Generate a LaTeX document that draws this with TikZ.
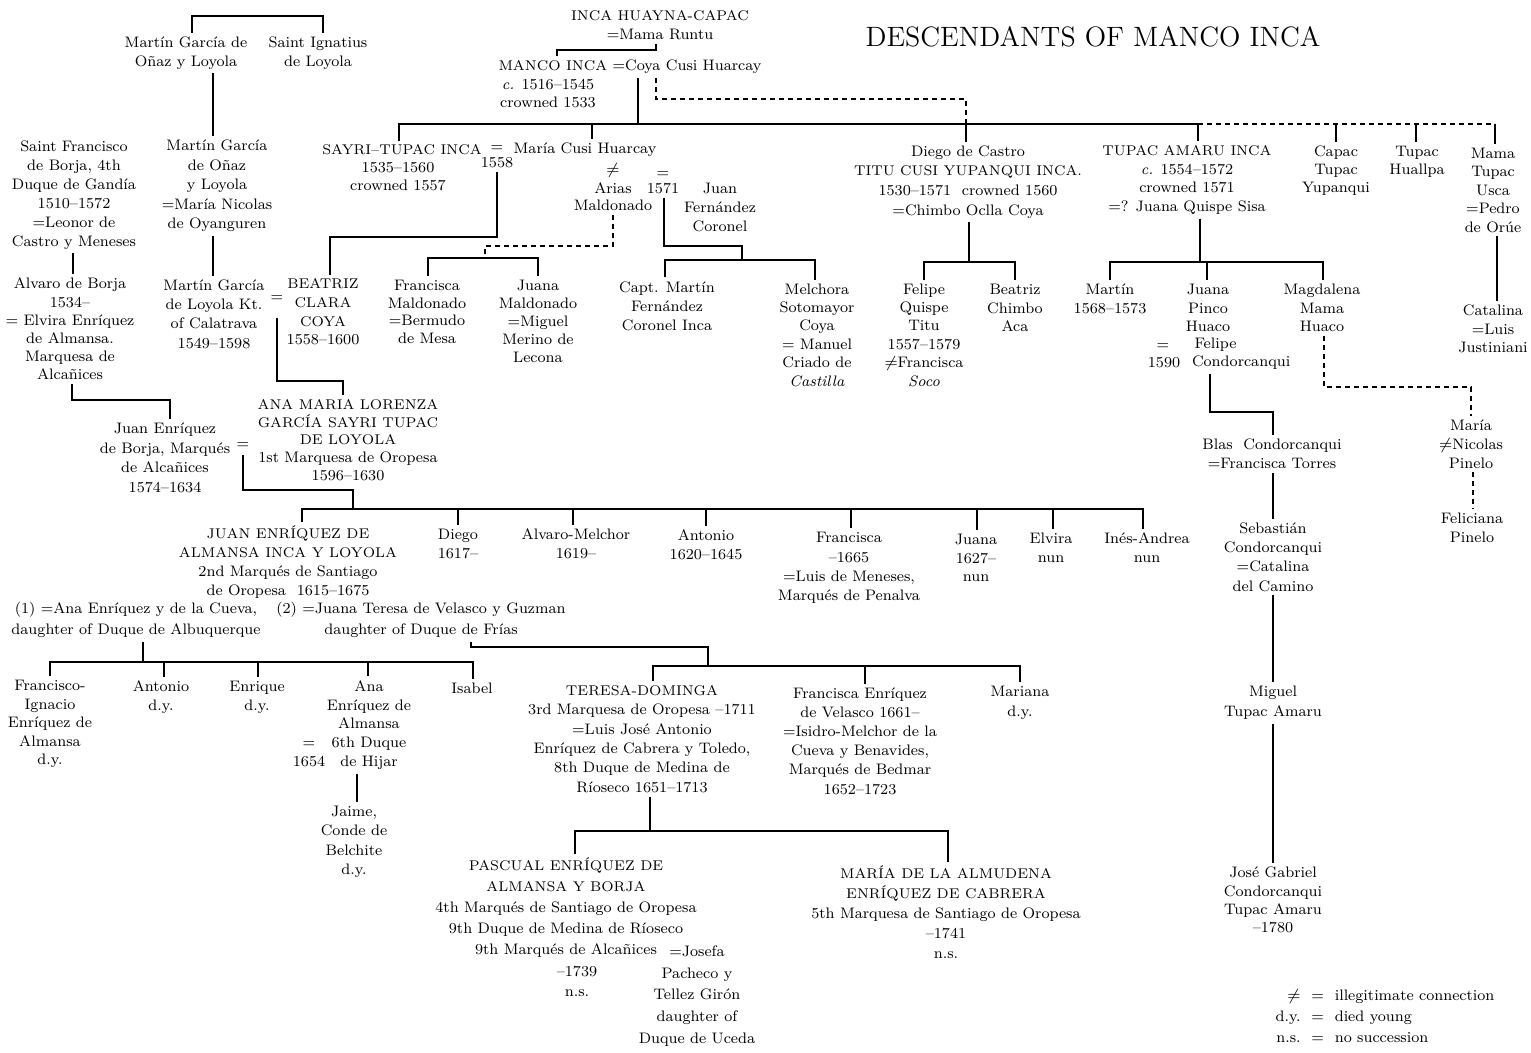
\documentclass[tikz,border=0pt]{standalone}
\usepackage{tikz}
\newcommand{\fsz}[1]{\fontsize{7.6}{#1}\selectfont}
\newcommand{\cp}[1]{{\fontsize{7.05}{9}\selectfont #1}}
\begin{document}
\begin{tikzpicture}[x=0.5pt,y=-0.5pt,line width=0.8pt,
  p/.style={align=center,inner sep=0pt,outer sep=2pt,font=\fsz{9.5}},
  dsh/.style={dash pattern=on 2.5pt off 2pt}]
\fill[white] (0,0) rectangle (1531,1053);
\useasboundingbox (0,0) rectangle (1531,1053);

\node[font=\fontsize{14}{16}\selectfont] (title) at (1093,37) {DESCENDANTS OF MANCO INCA};

% ---------- left side
\node[p] (mg1) at (186,53) {Martín García de\\Oñaz y Loyola};
\node[p] (ign) at (318,53) {Saint Ignatius\\de Loyola};
\node[p,font=\fsz{9.75}] (mg2) at (217,186) {Martín García\\de Oñaz\\y Loyola\\=María Nicolas\\de Oyanguren};
\node[p,font=\fsz{9.65}] (mg3) at (214,314) {Martín García\\de Loyola Kt.\\of Calatrava\\1549–1598};
\node[p] (eq3) at (277,299) {=};
\node[p] (sfb) at (74,195) {Saint Francisco\\de Borja, 4th\\Duque de Gandía\\1510–1572\\=Leonor de\\Castro y Meneses};
\node[p,font=\fsz{9.1}] (alv) at (70,329) {Alvaro de Borja\\1534–\\= Elvira Enríquez\\de Almansa.\\Marquesa de\\Alcañices};
\node[p,font=\fsz{9.85}] (jeb) at (165,458) {Juan Enríquez\\de Borja, Marqués\\de Alcañices\\1574–1634};
\node[p] (eq7) at (243,446) {=};
\node[p,font=\fsz{8.9}] (ana) at (348,440) {\cp{ANA MARIA LORENZA}\\\cp{GARCÍA SAYRI TUPAC}\\\cp{DE LOYOLA}\\1st Marquesa de Oropesa\\1596–1630};
\node[p] (jea) at (288,562) {\cp{JUAN ENRÍQUEZ DE}\\\cp{ALMANSA INCA Y LOYOLA}\\2nd Marqués de Santiago\\de Oropesa\ \ 1615–1675};
\node[p,font=\fsz{10.5}] (m1) at (136,620) {(1) =Ana Enríquez y de la Cueva,\\daughter of Duque de Albuquerque};
\node[p,font=\fsz{10.5}] (m2) at (421,620) {(2) =Juana Teresa de Velasco y Guzman\\daughter of Duque de Frías};
\node[p] (diego) at (458,544) {Diego\\1617–};
\node[p] (alvm) at (576,544) {Alvaro-Melchor\\1619–};
\node[p] (anto1) at (706,545) {Antonio\\1620–1645};
\node[p,font=\fsz{9.65}] (fran1) at (849,568) {Francisca\\–1665\\=Luis de Meneses,\\Marqués de Penalva};
\node[p,font=\fsz{9.25}] (juana1) at (976,558) {Juana\\1627–\\nun};
\node[p] (elvira) at (1051,548) {Elvira\\nun};
\node[p] (ines) at (1147,548) {Inés-Andrea\\nun};
\node[p,font=\fsz{9.25}] (fi) at (50,724) {Francisco-\\Ignacio\\Enríquez de\\Almansa\\d.y.};
\node[p] (anto2) at (161,697) {Antonio\\d.y.};
\node[p] (enr) at (257,697) {Enrique\\d.y.};
\node[p,font=\fsz{9.4}] (ana2) at (369,725) {Ana\\Enríquez de\\Almansa\\6th Duque\\de Hijar};
\node[p] (eqh) at (309,745) {=};
\node[p] (y1654) at (309,762) {1654};
\node[p] (isabel) at (472,688) {Isabel};
\node[p,font=\fsz{9.65}] (jaime) at (354,842) {Jaime,\\Conde de\\Belchite\\d.y.};
\node[p,font=\fsz{9.7}] (teresa) at (642,739) {\cp{TERESA-DOMINGA}\\3rd Marquesa de Oropesa –1711\\=Luis José Antonio\\Enríquez de Cabrera y Toledo,\\8th Duque de Medina de\\Ríoseco 1651–1713};
\node[p,font=\fsz{9.6}] (frane) at (860,741) {Francisca Enríquez\\de Velasco 1661–\\=Isidro-Melchor de la\\Cueva y Benavides,\\Marqués de Bedmar\\1652–1723};
\node[p,font=\fsz{10}] (mariana) at (1020,703) {Mariana\\d.y.};
\node[p,font=\fsz{10.5}] (pascual) at (566,908) {\cp{PASCUAL ENRÍQUEZ DE}\\\cp{ALMANSA Y BORJA}\\4th Marqués de Santiago de Oropesa\\9th Duque de Medina de Ríoseco\\9th Marqués de Alcañices};
\node[p,font=\fsz{10}] (pdates) at (577,981) {–1739\\n.s.};
\node[p,font=\fsz{10.9}] (josefa) at (697,996) {=Josefa\\Pacheco y\\Tellez Girón\\daughter of\\Duque de Uceda};
\node[p,font=\fsz{10}] (almudena) at (946,912) {\cp{MARÍA DE LA ALMUDENA}\\\cp{ENRÍQUEZ DE CABRERA}\\5th Marquesa de Santiago de Oropesa\\–1741\\n.s.};

% ---------- top centre
\node[p] (huayna) at (660,25) {\cp{INCA HUAYNA-CAPAC}\\=Mama Runtu};
\node[p] (manco) at (630,67) {\cp{MANCO INCA}\ =Coya Cusi Huarcay};
\node[p,font=\fsz{9}] (mancod) at (548,94) {\textit{c.} 1516–1545\\crowned 1533};
\node[p] (sayri) at (402,150) {\cp{SAYRI–TUPAC INCA}};
\node[p,font=\fsz{9}] (sayrid) at (398,177) {1535–1560\\crowned 1557};
\node[p] (eqs) at (497,149) {=};
\node[p] (y1558) at (497,163) {1558};
\node[p] (maria) at (585,150) {María Cusi Huarcay};
\node[p] (neq1) at (613,171) {$\neq$};
\node[p,font=\fsz{8.5}] (arias) at (613,197) {Arias\\Maldonado};
\node[p] (eq1571) at (663,175) {=};
\node[p] (y1571) at (663,189) {1571};
\node[p] (jfc) at (720,207) {Juan\\Fernández\\Coronel};
\node[p,font=\fsz{9.35}] (beatriz) at (323,312) {\cp{BEATRIZ}\\\cp{CLARA}\\\cp{COYA}\\1558–1600};
\node[p,font=\fsz{8.85}] (fmald) at (427,312) {Francisca\\Maldonado\\=Bermudo\\de Mesa};
\node[p,font=\fsz{9}] (jmald) at (538,321) {Juana\\Maldonado\\=Miguel\\Merino de\\Lecona};
\node[p] (capt) at (667,306) {Capt. Martín\\Fernández\\Coronel Inca};
\node[p,font=\fsz{9.2}] (melch) at (817,335) {Melchora\\Sotomayor\\Coya\\= Manuel\\Criado de\\\textit{Castilla}};
\node[p,font=\fsz{9.8}] (diegoc) at (968,182) {Diego de Castro\\\cp{TITU CUSI YUPANQUI INCA.}\\1530–1571\ \ crowned 1560\\=Chimbo Oclla Coya};
\node[p,font=\fsz{9.2}] (felipe) at (924,335) {Felipe\\Quispe\\Titu\\1557–1579\\$\neq$Francisca\\\textit{Soco}};
\node[p,font=\fsz{9.25}] (beatrizc) at (1015,308) {Beatriz\\Chimbo\\Aca};

% ---------- right side
\node[p,font=\fsz{9.35}] (tupac) at (1187,180) {\cp{TUPAC AMARU INCA}\\\textit{c.} 1554–1572\\crowned 1571\\=? Juana Quispe Sisa};
\node[p,font=\fsz{9}] (capac) at (1336,171) {Capac\\Tupac\\Yupanqui};
\node[p,font=\fsz{9}] (huallpa) at (1417,162) {Tupac\\Huallpa};
\node[p,font=\fsz{9.25}] (mamat) at (1493,190) {Mama\\Tupac\\Usca\\=Pedro\\de Orúe};
\node[p,font=\fsz{9.25}] (catalina) at (1493,329) {Catalina\\=Luis\\Justiniani};
\node[p] (martin2) at (1110,299) {Martín\\1568–1573};
\node[p,font=\fsz{9.25}] (juanap) at (1208,308) {Juana\\Pinco\\Huaco};
\node[p,font=\fsz{9},align=left,anchor=west] (felipec) at (1188,354) {\,Felipe\\Condorcanqui};
\node[p] (eq1590) at (1163,347) {=};
\node[p] (y1590) at (1164,363) {1590};
\node[p,font=\fsz{9.25}] (magd) at (1322,308) {Magdalena\\Mama\\Huaco};
\node[p] (mariap) at (1471,444) {María\\$\neq$Nicolas\\Pinelo};
\node[p] (feliciana) at (1472,528) {Feliciana\\Pinelo};
\node[p] (blas) at (1272,454) {Blas\ \ Condorcanqui\\=Francisca Torres};
\node[p,font=\fsz{9.65}] (sebas) at (1273,557) {Sebastián\\Condorcanqui\\=Catalina\\del Camino};
\node[p,font=\fsz{10}] (miguel) at (1273,703) {Miguel\\Tupac Amaru};
\node[p,font=\fsz{9.15}] (jose) at (1273,900) {José Gabriel\\Condorcanqui\\Tupac Amaru\\–1780};

\node[inner sep=0pt,font=\fsz{10.5}] (legend) at (1385,1017) {\begin{tabular}{@{}r@{\ \ }c@{\ \ }l@{}}$\neq$ & = & illegitimate connection\\d.y. & = & died young\\n.s. & = & no succession\end{tabular}};

% ---------- connectors: left
\draw (mg1.north -| 192,0) -- (192,16) -- (323,16) -- (ign.north -| 323,0);
\draw (mg1.south -| 213,0) -- (mg2.north -| 213,0);
\draw (mg2.south -| 213,0) -- (mg3.north -| 213,0);
\draw (sfb.south -| 73,0) -- (alv.north -| 73,0);
\draw (alv.south -| 72,0) |- (170,400) -- (jeb.north -| 170,0);
\draw[shorten <=6pt] (eq3.south) |- (343,381) -- (ana.north -| 343,0);

% top centre
\draw (huayna.south -| 656,0) |- (557,50) -- (manco.north -| 557,0);
\draw (manco.south -| 638,0) -- (638,124);
\draw[dsh] (manco.south -| 656,0) |- (966,99) -- (966,124);
\draw (sayri.north -| 399,0) |- (1198,124) -- (tupac.north -| 1198,0);
\draw (592,124) -- (maria.north -| 592,0);
\draw (966,124) -- (diegoc.north -| 966,0);
\draw[dsh] (1198,124) -- (1495,124);
\draw (1336,124) -- (capac.north -| 1336,0);
\draw (1416,124) -- (huallpa.north -| 1416,0);
\draw (1495,124) -- (mamat.north -| 1495,0);

\draw (y1558.south -| 497,0) |- (330,237) -- (beatriz.north -| 330,0);
\draw[dsh] (arias.south -| 613,0) |- (485,246) -- (485,258);
\draw (fmald.north -| 428,0) |- (538,258) -- (jmald.north -| 538,0);
\draw (y1571.south -| 664,0) |- (742,246) -- (742,260);
\draw (capt.north -| 665,0) |- (815,260) -- (melch.north -| 815,0);
\draw (diegoc.south -| 969,0) -- (969,262);
\draw (felipe.north -| 924,0) |- (1015,262) -- (beatrizc.north -| 1015,0);

% right
\draw (tupac.south -| 1200,0) -- (1200,262);
\draw (martin2.north -| 1110,0) |- (1323,262) -- (magd.north -| 1323,0);
\draw (1207,262) -- (juanap.north -| 1207,0);
\draw (mamat.south -| 1497,0) -- (catalina.north -| 1497,0);
\draw[dsh] (magd.south -| 1324,0) |- (1471,387) -- (mariap.north -| 1471,0);
\draw[dsh] (mariap.south -| 1473,0) -- (feliciana.north -| 1473,0);
\draw (felipec.south -| 1210,0) |- (1273,412) -- (blas.north -| 1273,0);
\draw (blas.south -| 1273,0) -- (sebas.north -| 1273,0);
\draw (sebas.south -| 1273,0) -- (miguel.north -| 1273,0);
\draw (miguel.south -| 1273,0) -- (jose.north -| 1273,0);

% middle
\draw[shorten <=1pt] (eq7.south) |- (353,490) -- (353,509);
\draw (jea.north -| 302,0) |- (1143,509) -- (ines.north -| 1143,0);
\foreach \n/\x in {diego/458,alvm/573,anto1/706,fran1/851,juana1/977,elvira/1053}
  \draw (\x,509) -- (\n.north -| \x,0);
\draw (m1.south -| 143,0) -- (143,662);
\draw (fi.north -| 50,0) |- (473,662) -- (isabel.north -| 473,0);
\foreach \n/\x in {anto2/164,enr/258,ana2/368}
  \draw (\x,662) -- (\n.north -| \x,0);
\draw (ana2.south -| 357,0) -- (jaime.north -| 357,0);
\draw (m2.south -| 471,0) |- (708,647) -- (708,666);
\draw (teresa.north -| 653,0) |- (1020,666) -- (mariana.north -| 1020,0);
\draw (865,666) -- (frane.north -| 865,0);
\draw (teresa.south -| 650,0) -- (650,831);
\draw (pascual.north -| 575,0) |- (948,831) -- (almudena.north -| 948,0);
\end{tikzpicture}
\end{document}
